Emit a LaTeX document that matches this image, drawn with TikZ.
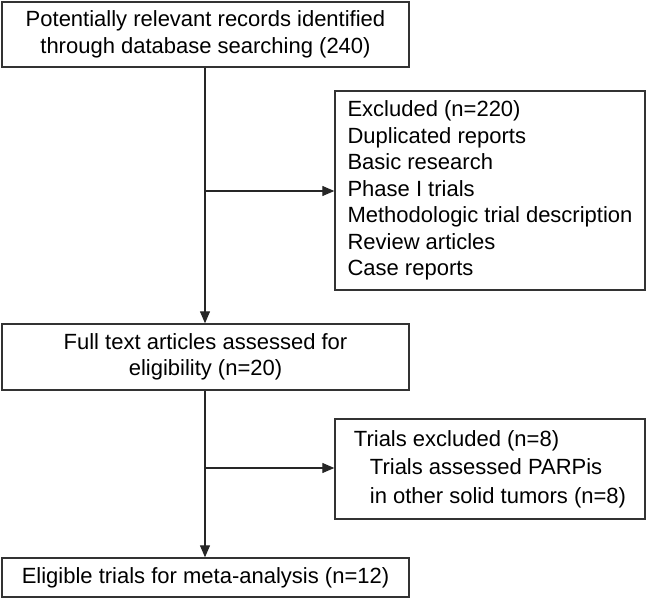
\documentclass[tikz,border=0pt]{standalone}
\usepackage{fontspec}
\setmainfont{Liberation Sans}
\usetikzlibrary{arrows.meta}
\begin{document}
\begin{tikzpicture}[x=1pt,y=-1pt,
  box/.style={draw=black!80, line width=1.4pt, rectangle, inner sep=0pt,
    font=\fontsize{22}{26.5}\selectfont},
  conn/.style={draw=black!85, line width=1.2pt},
  arr/.style={conn, -{Triangle[length=12pt,width=10pt]}}]
\useasboundingbox (0,0) rectangle (646,599);
\node[box, minimum width=407pt, minimum height=65pt, align=center] (b1) at (205.5,34.5)
  {Potentially relevant records identified\\through database searching (240)};
\node[box, minimum width=310pt, minimum height=199pt, align=left] (b2) at (490,190.5)
  {Excluded (n=220)\\Duplicated reports\\Basic research\\Phase I trials\\Methodologic trial description\\Review articles\\Case reports};
\node[box, minimum width=407pt, minimum height=66pt, align=center] (b3) at (205.5,357)
  {Full text articles assessed for\\eligibility (n=20)};
\node[box, minimum width=310pt, minimum height=100pt, align=left] (b4) at (490,469)
  {Trials excluded (n=8)\\[2pt]\hspace*{16pt}Trials assessed PARPis\\[2pt]\hspace*{16pt}in other solid tumors (n=8)};
\node[box, minimum width=407pt, minimum height=39pt, align=center] (b5) at (205.5,577.5)
  {Eligible trials for meta-analysis (n=12)};
\coordinate (j1) at (205,191);
\coordinate (j2) at (205,468);
\draw[arr] (b1.south -| j1) -- (b3.north -| j1);
\draw[arr] (j1) -- (b2.west |- j1);
\draw[arr] (b3.south -| j2) -- (b5.north -| j2);
\draw[arr] (j2) -- (b4.west |- j2);
\end{tikzpicture}
\end{document}
